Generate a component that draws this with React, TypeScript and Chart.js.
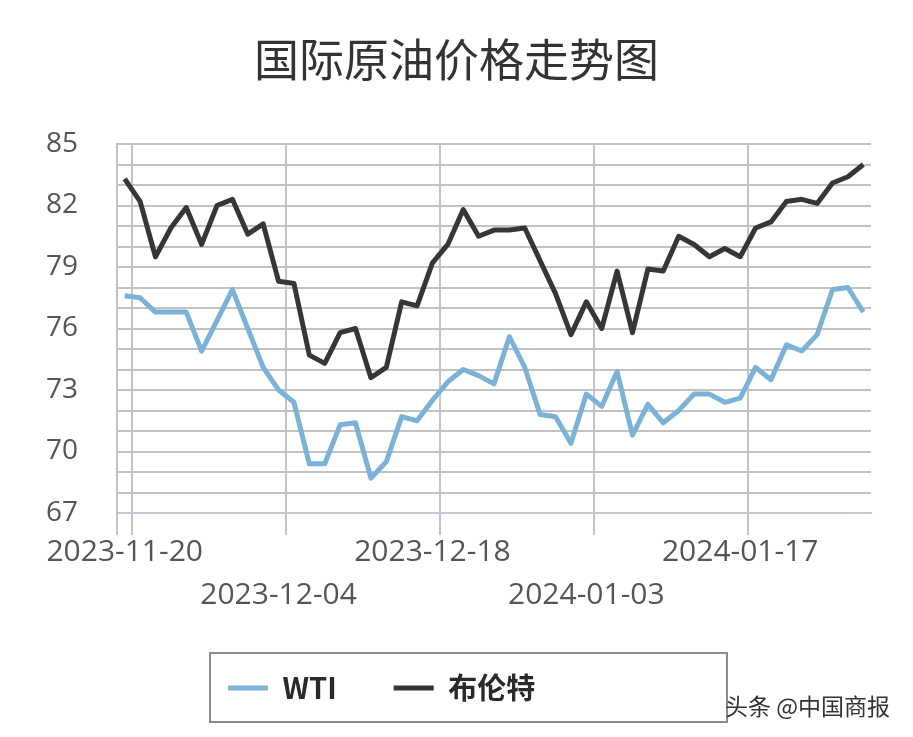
import React, { useEffect, useRef } from "react";
import { Chart, registerables } from "chart.js";

Chart.register(...registerables);

const TITLE = "国际原油价格走势图";
const WATERMARK = "头条 @中国商报";
const seriesNames = ["WTI", "布伦特"];

const dates = [
  "2023-11-20", "2023-11-21", "2023-11-22", "2023-11-23", "2023-11-24",
  "2023-11-27", "2023-11-28", "2023-11-29", "2023-11-30", "2023-12-01",
  "2023-12-04", "2023-12-05", "2023-12-06", "2023-12-07", "2023-12-08",
  "2023-12-11", "2023-12-12", "2023-12-13", "2023-12-14", "2023-12-15",
  "2023-12-18", "2023-12-19", "2023-12-20", "2023-12-21", "2023-12-22",
  "2023-12-26", "2023-12-27", "2023-12-28", "2023-12-29", "2024-01-02",
  "2024-01-03", "2024-01-04", "2024-01-05", "2024-01-08", "2024-01-09",
  "2024-01-10", "2024-01-11", "2024-01-12", "2024-01-15", "2024-01-16",
  "2024-01-17", "2024-01-18", "2024-01-19", "2024-01-22", "2024-01-23",
  "2024-01-24", "2024-01-25", "2024-01-26", "2024-01-29",
];

const wti = [
  77.6, 77.5, 76.8, 76.8, 76.8, 74.9, 76.4, 77.9, 76.0, 74.1,
  73.0, 72.4, 69.4, 69.4, 71.3, 71.4, 68.7, 69.5, 71.7, 71.5,
  72.5, 73.4, 74.0, 73.7, 73.3, 75.6, 74.1, 71.8, 71.7, 70.4,
  72.8, 72.2, 73.9, 70.8, 72.3, 71.4, 72.0, 72.8, 72.8, 72.4,
  72.6, 74.1, 73.5, 75.2, 74.9, 75.7, 77.9, 78.0, 76.8,
];

const brent = [
  83.3, 82.2, 79.5, 80.9, 81.9, 80.1, 82.0, 82.3, 80.6, 81.1,
  78.3, 78.2, 74.7, 74.3, 75.8, 76.0, 73.6, 74.1, 77.3, 77.1,
  79.2, 80.1, 81.8, 80.5, 80.8, 80.8, 80.9, 79.3, 77.7, 75.7,
  77.3, 76.0, 78.8, 75.8, 78.9, 78.8, 80.5, 80.1, 79.5, 79.9,
  79.5, 80.9, 81.2, 82.2, 82.3, 82.1, 83.1, 83.4, 84.0,
];

const Y_MIN = 67;
const Y_MAX = 85;
const Y_LABEL_STEP = 3;
const X_LABEL_EVERY = 10;

const WTI_COLOR = "#7db2d8";
const BRENT_COLOR = "#363636";
const GRID_COLOR = "#c2c2c2";

const LEGEND_PAD = 57;
const LEGEND_FONT = 29;

export default function App() {
  const ref = useRef<HTMLCanvasElement>(null);

  useEffect(() => {
    if (!ref.current) return;

    const placeBoxes = {
      id: "placeBoxes",
      afterLayout(chart: any) {
        const tb = chart.titleBlock;
        if (tb) {
          tb.left = 0;
          tb.right = chart.width;
        }
        const lg = chart.legend;
        if (lg) {
          const h = lg.height;
          lg.left = 228 - LEGEND_PAD;
          lg.right = 905;
          lg.top = 688 - LEGEND_PAD - LEGEND_FONT / 2;
          lg.bottom = lg.top + h;
        }
      },
      afterDraw(chart: any) {
        const ctx = chart.ctx;
        ctx.save();
        ctx.strokeStyle = "#8c8c8c";
        ctx.lineWidth = 2;
        ctx.strokeRect(210, 653, 517, 69);
        ctx.restore();
      },
    };

    const chart = new Chart(ref.current, {
      type: "line",
      data: {
        labels: dates,
        datasets: [
          {
            label: seriesNames[0],
            data: wti,
            borderColor: WTI_COLOR,
            backgroundColor: WTI_COLOR,
            borderWidth: 5,
            pointRadius: 0,
            tension: 0,
            borderJoinStyle: "round",
          },
          {
            label: seriesNames[1],
            data: brent,
            borderColor: BRENT_COLOR,
            backgroundColor: BRENT_COLOR,
            borderWidth: 5,
            pointRadius: 0,
            tension: 0,
            borderJoinStyle: "round",
          },
        ],
      },
      options: {
        responsive: false,
        animation: false,
        devicePixelRatio: 1,
        layout: { padding: { left: 0, right: 42, top: 0, bottom: 28 } },
        plugins: {
          title: {
            display: true,
            text: TITLE,
            color: "#333333",
            font: { family: "'Noto Sans CJK SC'", size: 45, weight: "normal" },
            padding: { top: 33, bottom: 57 },
          },
          legend: {
            display: true,
            position: "bottom",
            align: "start",
            labels: {
              usePointStyle: true,
              pointStyle: "line",
              pointStyleWidth: 40,
              padding: LEGEND_PAD,
              color: "#2a2a2a",
              font: { family: "'Noto Sans CJK SC'", size: LEGEND_FONT, weight: "bold" },
            },
          },
          tooltip: { enabled: false },
        },
        scales: {
          x: {
            type: "category",
            offset: true,
            grid: {
              offset: true,
              lineWidth: 2,
              tickLength: 22,
              drawTicks: true,
              color: (c: any) =>
                typeof c.index === "number" && (c.index === 0 || c.index % X_LABEL_EVERY === 1)
                  ? "#c4c4c4"
                  : "rgba(0,0,0,0)",
            },
            border: { color: "#c2c9d5", width: 2 },
            ticks: {
              autoSkip: false,
              maxRotation: 0,
              minRotation: 0,
              padding: -4,
              color: "#555555",
              font: { family: "'Open Sans'", size: 30, lineHeight: 1.43 },
              callback: (_v: any, i: number) => {
                if (i % X_LABEL_EVERY !== 0) return "";
                const lab = dates[i];
                return (i / X_LABEL_EVERY) % 2 === 1 ? ["", lab] : lab;
              },
            },
            afterFit: (s: any) => {
              s.height = 100;
            },
          },
          y: {
            min: Y_MIN,
            max: Y_MAX,
            grid: { color: GRID_COLOR, lineWidth: 2, drawTicks: false },
            border: { color: GRID_COLOR, width: 2 },
            ticks: {
              stepSize: 1,
              autoSkip: false,
              padding: 39,
              color: "#555555",
              font: { family: "'Open Sans'", size: 28 },
              callback: (v: any) =>
                (Number(v) - Y_MIN) % Y_LABEL_STEP === 0 ? String(v) : "",
            },
            afterFit: (s: any) => {
              s.width = 117;
            },
          },
        },
      },
      plugins: [placeBoxes],
    });

    return () => chart.destroy();
  }, []);

  return (
    <div style={{ position: "fixed", left: 0, top: 0, width: 913, height: 737, background: "#ffffff" }}>
      <canvas ref={ref} width={913} height={737} style={{ display: "block" }} />
      <span
        style={{
          position: "absolute",
          left: 725,
          top: 692,
          fontFamily: "'Noto Sans CJK SC', sans-serif",
          fontSize: 23,
          lineHeight: "26px",
          color: "#333333",
          whiteSpace: "nowrap",
        }}
      >
        {WATERMARK}
      </span>
    </div>
  );
}
